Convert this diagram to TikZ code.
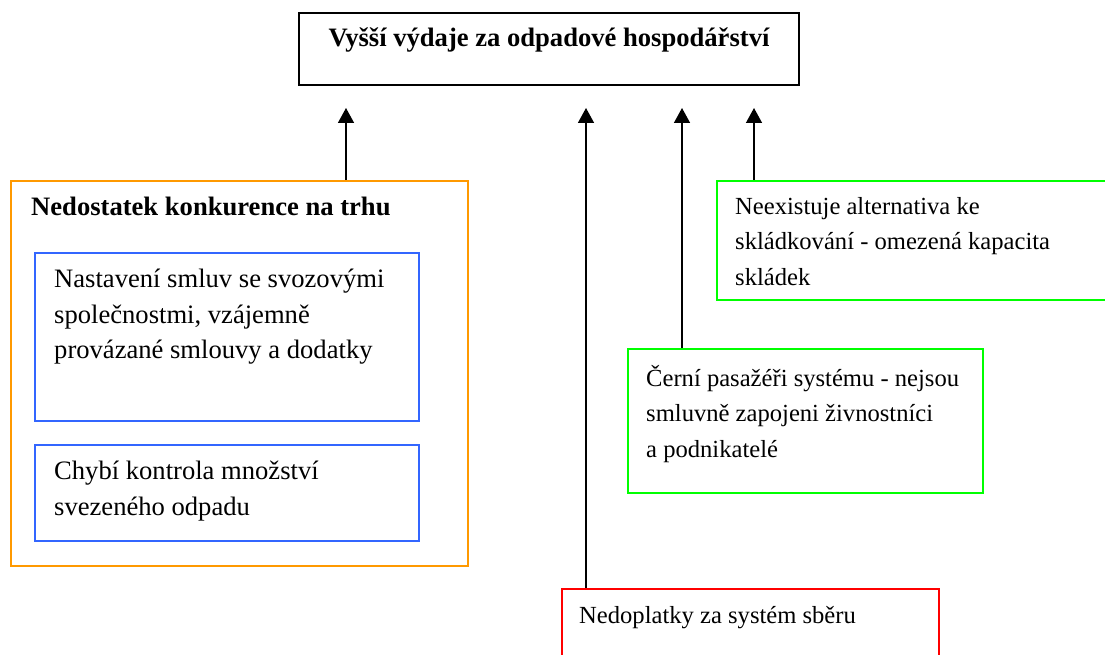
\documentclass[tikz,border=0pt]{standalone}
\usepackage{fontspec}
\setmainfont{Liberation Serif}
\usetikzlibrary{arrows.meta,positioning}
\definecolor{konkorange}{RGB}{255,153,0}
\definecolor{smlblue}{RGB}{51,102,255}
\definecolor{altgreen}{RGB}{0,255,0}
\definecolor{platred}{RGB}{255,0,0}
\newcommand\bigtxt{\fontsize{26.6}{35.5}\selectfont}
\newcommand\smalltxt{\fontsize{24.6}{35.5}\selectfont}

\begin{document}
\begin{tikzpicture}[x=1pt, y=-1pt,
  every node/.style={font=\bigtxt},
  frame/.style={draw, line width=2pt, anchor=north west, inner sep=0pt},
  textbase/.style={anchor=north west, align=left, inner sep=0pt, xshift=19pt, execute at begin node=\strut},
  boxtext/.style={textbase, yshift=-17pt},
  oneline/.style={textbase, yshift=-10.15pt},
  arr/.style={-{Triangle[width=16pt,length=15pt]}, line width=1.5pt}]
\useasboundingbox (0,0) rectangle (1105,655);
\clip (0,0) rectangle (1105,655);

% main effect
\node[frame, minimum width=500pt, minimum height=72pt] (vydaje) at (298,12) {};
\node[anchor=base, inner sep=0pt, yshift=-35pt, font=\bigtxt\bfseries] (vydajetxt) at (vydaje.north) {Vyšší výdaje za odpadové hospodářství};

% competition cluster
\node[frame, draw=konkorange, minimum width=457pt, minimum height=385pt] (konk) at (10,180) {};
\node[oneline, xshift=2pt, font=\bigtxt\bfseries] (konktxt) at (konk.north west) {Nedostatek konkurence na trhu};
\node[frame, draw=smlblue, minimum width=384pt, minimum height=168pt] (smlouvy) at (34,252) {};
\node[boxtext, xshift=1pt] (smlouvytxt) at (smlouvy.north west) {Nastavení smluv se svozovými\\společnostmi, vzájemně\\provázané smlouvy a dodatky};
\node[frame, draw=smlblue, minimum width=384pt, minimum height=96pt] (kontrola) at (34,444) {};
\node[boxtext, xshift=1pt] (kontrolatxt) at (kontrola.north west) {Chybí kontrola množství\\svezeného odpadu};

% other causes
\node[frame, draw=altgreen, minimum width=450pt, minimum height=119pt] (skladky) at (716,180) {};
\node[boxtext, font=\smalltxt] (skladkytxt) at (skladky.north west) {Neexistuje alternativa ke\\skládkování - omezená kapacita\\skládek};
\node[frame, draw=altgreen, minimum width=355pt, minimum height=144pt] (cerni) at (627,348) {};
\node[boxtext, font=\smalltxt] (cernitxt) at (cerni.north west) {Černí pasažéři systému - nejsou\\smluvně zapojeni živnostníci\\a podnikatelé};
\node[frame, draw=platred, minimum width=377pt, minimum height=100pt] (nedopl) at (561,588) {};
\node[oneline, xshift=-1pt, font=\smalltxt] (nedopltxt) at (nedopl.north west) {Nedoplatky za systém sběru};

% arrow tips below the main box
\coordinate (t1) at (346,108);
\coordinate (t2) at (586,108);
\coordinate (t3) at (682,108);
\coordinate (t4) at (754,108);

\draw[arr] (t1 |- konk.north) -- (t1);
\draw[arr] (t2 |- nedopl.north) -- (t2);
\draw[arr] (t3 |- cerni.north) -- (t3);
\draw[arr] (t4 |- skladky.north) -- (t4);
\end{tikzpicture}
\end{document}
